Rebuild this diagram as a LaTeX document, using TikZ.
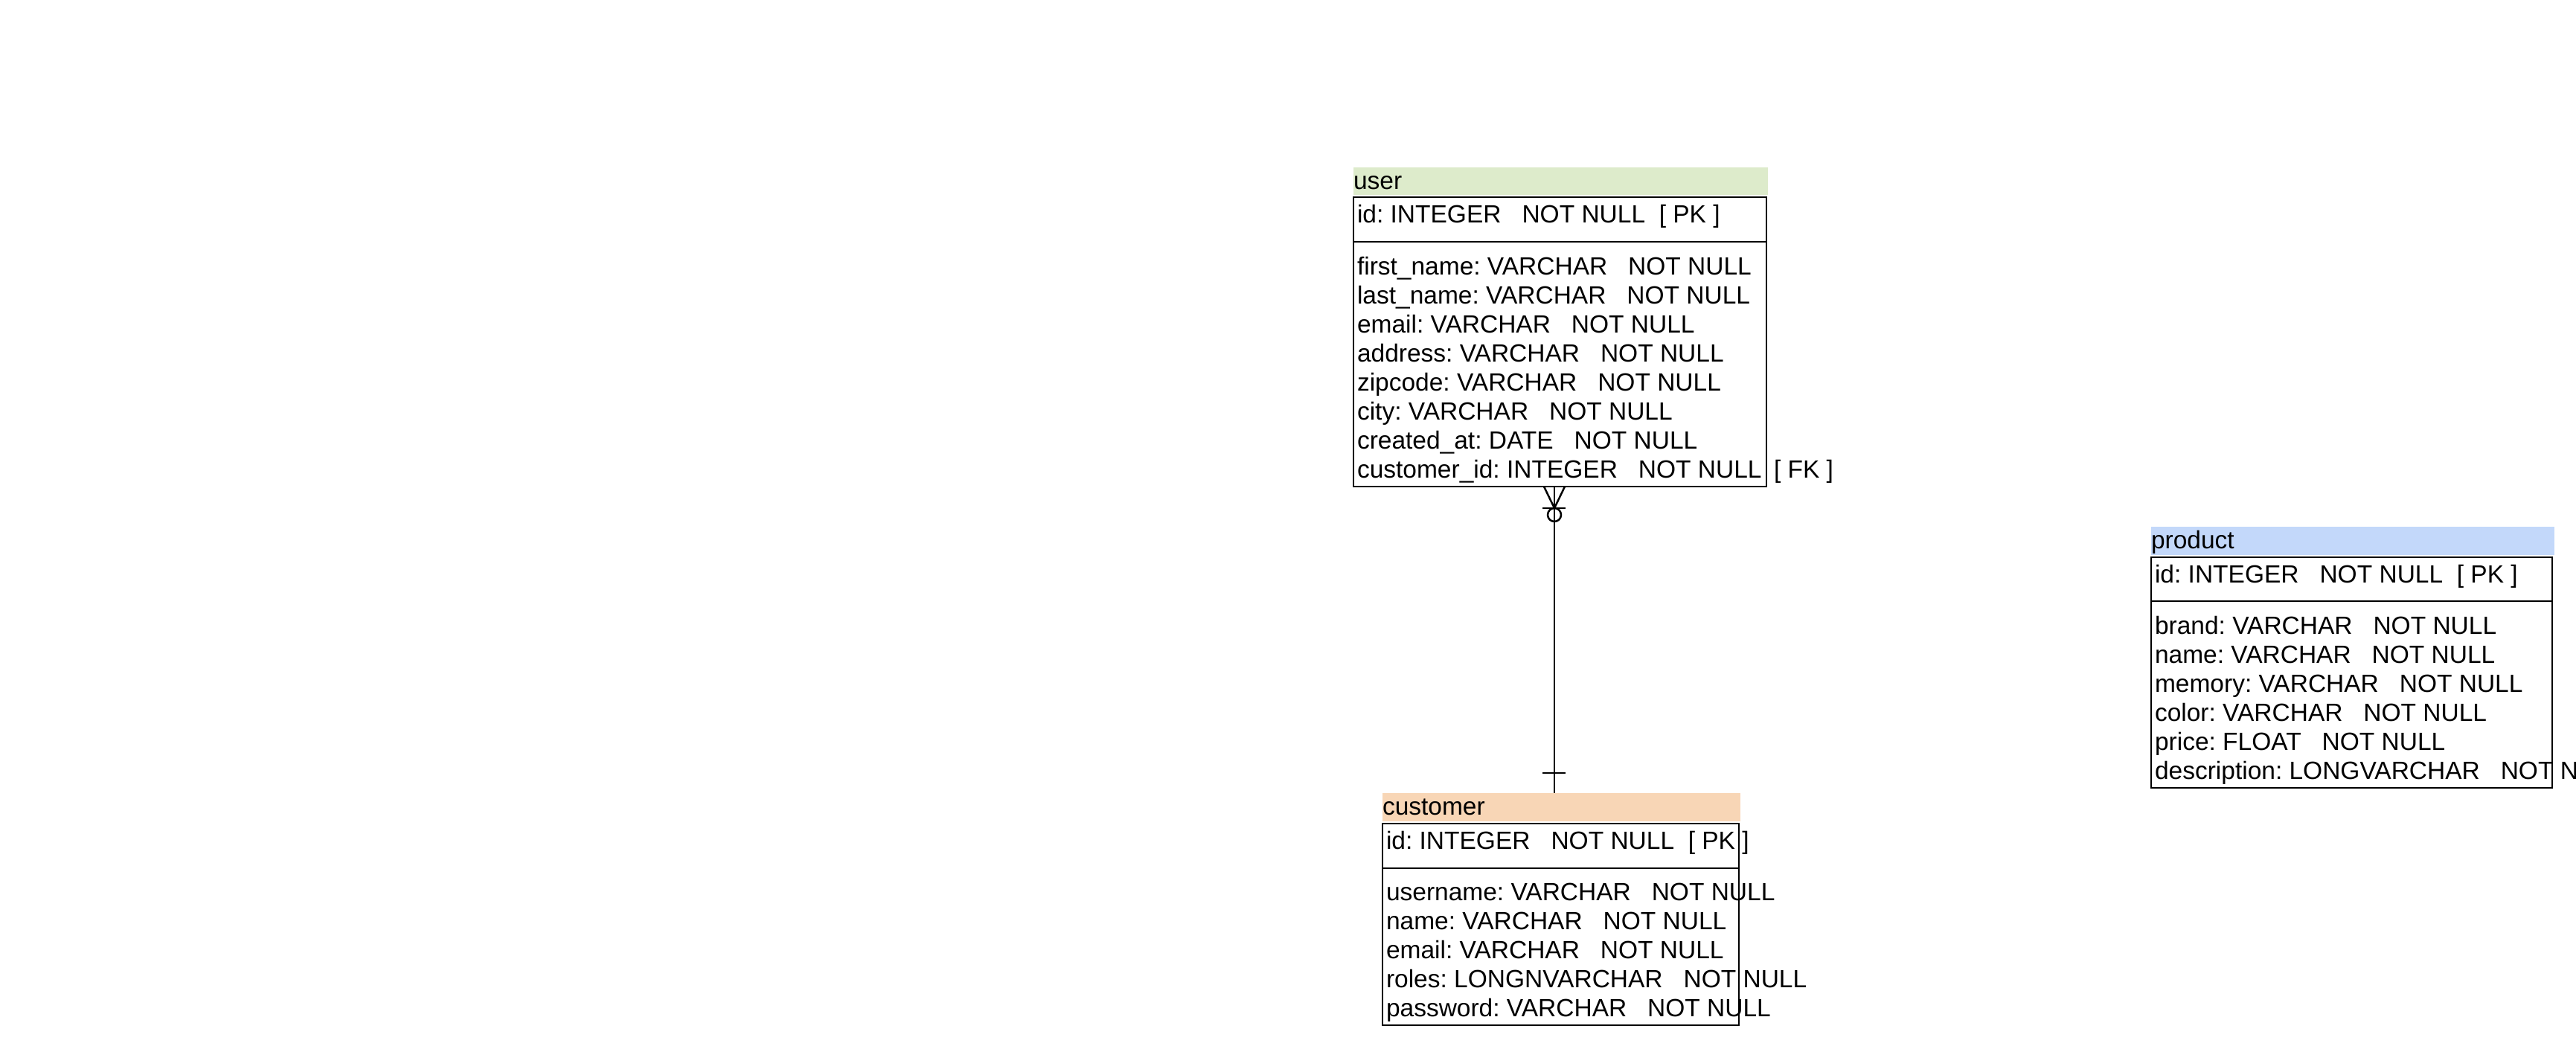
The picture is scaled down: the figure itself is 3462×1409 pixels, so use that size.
\documentclass[tikz,border=0pt]{standalone}
\usepackage{fontspec}
\setmainfont{Liberation Sans}
\usetikzlibrary{calc}
\frenchspacing
\definecolor{hdrgreen}{RGB}{221,235,203}
\definecolor{hdrpeach}{RGB}{248,214,182}
\definecolor{hdrblue}{RGB}{195,216,250}
\newcommand{\gapc}{\ \ \ }
\newcommand{\gapd}{\ \ }
\tikzset{
  row/.style={anchor=base west, inner sep=0pt, outer sep=0pt, font=\fontsize{33.5}{39}\selectfont},
  tbox/.style={draw, line width=2.5pt, anchor=north west, inner sep=0pt, outer sep=0pt},
  hdr/.style={anchor=north west, inner sep=0pt, outer sep=0pt},
  sepline/.style={line width=2.5pt},
  rel/.style={line width=2.5pt}
}
\begin{document}
\begin{tikzpicture}[x=1pt,y=-1pt]
\useasboundingbox (0,0) rectangle (3462,1409);

% ---------- user ----------
\node[hdr, fill=hdrgreen, minimum width=557pt, minimum height=37pt] (userhdr) at (1819,225) {};
\node[row] (usertitle) at (1819,254) {user};
\node[tbox, minimum width=555pt, minimum height=389pt] (userbox) at (1819,265) {};
\draw[sepline] (1819,325) -- (2374,325);
\node[row] (userid) at (1824,299) {id: INTEGER\gapc NOT NULL\gapd [ PK ]};
\foreach \t [count=\i from 0] in {
  {first\_name: VARCHAR\gapc NOT NULL},
  {last\_name: VARCHAR\gapc NOT NULL},
  {email: VARCHAR\gapc NOT NULL},
  {address: VARCHAR\gapc NOT NULL},
  {zipcode: VARCHAR\gapc NOT NULL},
  {city: VARCHAR\gapc NOT NULL},
  {created\_at: DATE\gapc NOT NULL},
  {customer\_id: INTEGER\gapc NOT NULL}}
  \node[row] (urow\i) at (1824,{369+39*\i}) {\t};
\node[row] (userfk) at (2384,642) {[ FK ]};

% ---------- customer ----------
\node[hdr, fill=hdrpeach, minimum width=481pt, minimum height=38pt] (custhdr) at (1858,1066) {};
\node[row] (custtitle) at (1858,1095) {customer};
\node[tbox, minimum width=479pt, minimum height=271pt] (custbox) at (1858,1107) {};
\draw[sepline] (1858,1167) -- (2337,1167);
\node[row] (custid) at (1863,1141) {id: INTEGER\gapc NOT NULL\gapd [ PK ]};
\foreach \t [count=\i from 0] in {
  {username: VARCHAR\gapc NOT NULL},
  {name: VARCHAR\gapc NOT NULL},
  {email: VARCHAR\gapc NOT NULL},
  {roles: LONGNVARCHAR\gapc NOT NULL},
  {password: VARCHAR\gapc NOT NULL}}
  \node[row] (crow\i) at (1863,{1210+39*\i}) {\t};

% ---------- product ----------
\node[hdr, fill=hdrblue, minimum width=542pt, minimum height=38pt] (prodhdr) at (2891,708) {};
\node[row] (prodtitle) at (2891,737) {product};
\node[tbox, minimum width=539pt, minimum height=310pt] (prodbox) at (2891,749) {};
\draw[sepline] (2891,808) -- (3430,808);
\node[row] (prodid) at (2896,783) {id: INTEGER\gapc NOT NULL\gapd [ PK ]};
\foreach \t [count=\i from 0] in {
  {brand: VARCHAR\gapc NOT NULL},
  {name: VARCHAR\gapc NOT NULL},
  {memory: VARCHAR\gapc NOT NULL},
  {color: VARCHAR\gapc NOT NULL},
  {price: FLOAT\gapc NOT NULL},
  {description: LONGVARCHAR\gapc NOT NULL}}
  \node[row] (prow\i) at (2896,{852+39*\i}) {\t};

% ---------- relationship user.customer_id -> customer.id ----------
\coordinate (ufk) at (2089,654);
\coordinate (cpk) at (2089,1066);
\draw[rel] (ufk) -- (cpk);
% zero-or-many at user end
\draw[rel] ($(ufk)+(-14,0)$) -- ($(ufk)+(0,29)$) -- ($(ufk)+(14,0)$);
\draw[rel] ($(ufk)+(-16,29)$) -- ($(ufk)+(15,29)$);
\draw[rel] ($(ufk)+(0,38)$) circle[radius=9pt];
% exactly-one at customer end
\draw[rel] ($(cpk)+(-16,-27)$) -- ($(cpk)+(15,-27)$);
\end{tikzpicture}
\end{document}
